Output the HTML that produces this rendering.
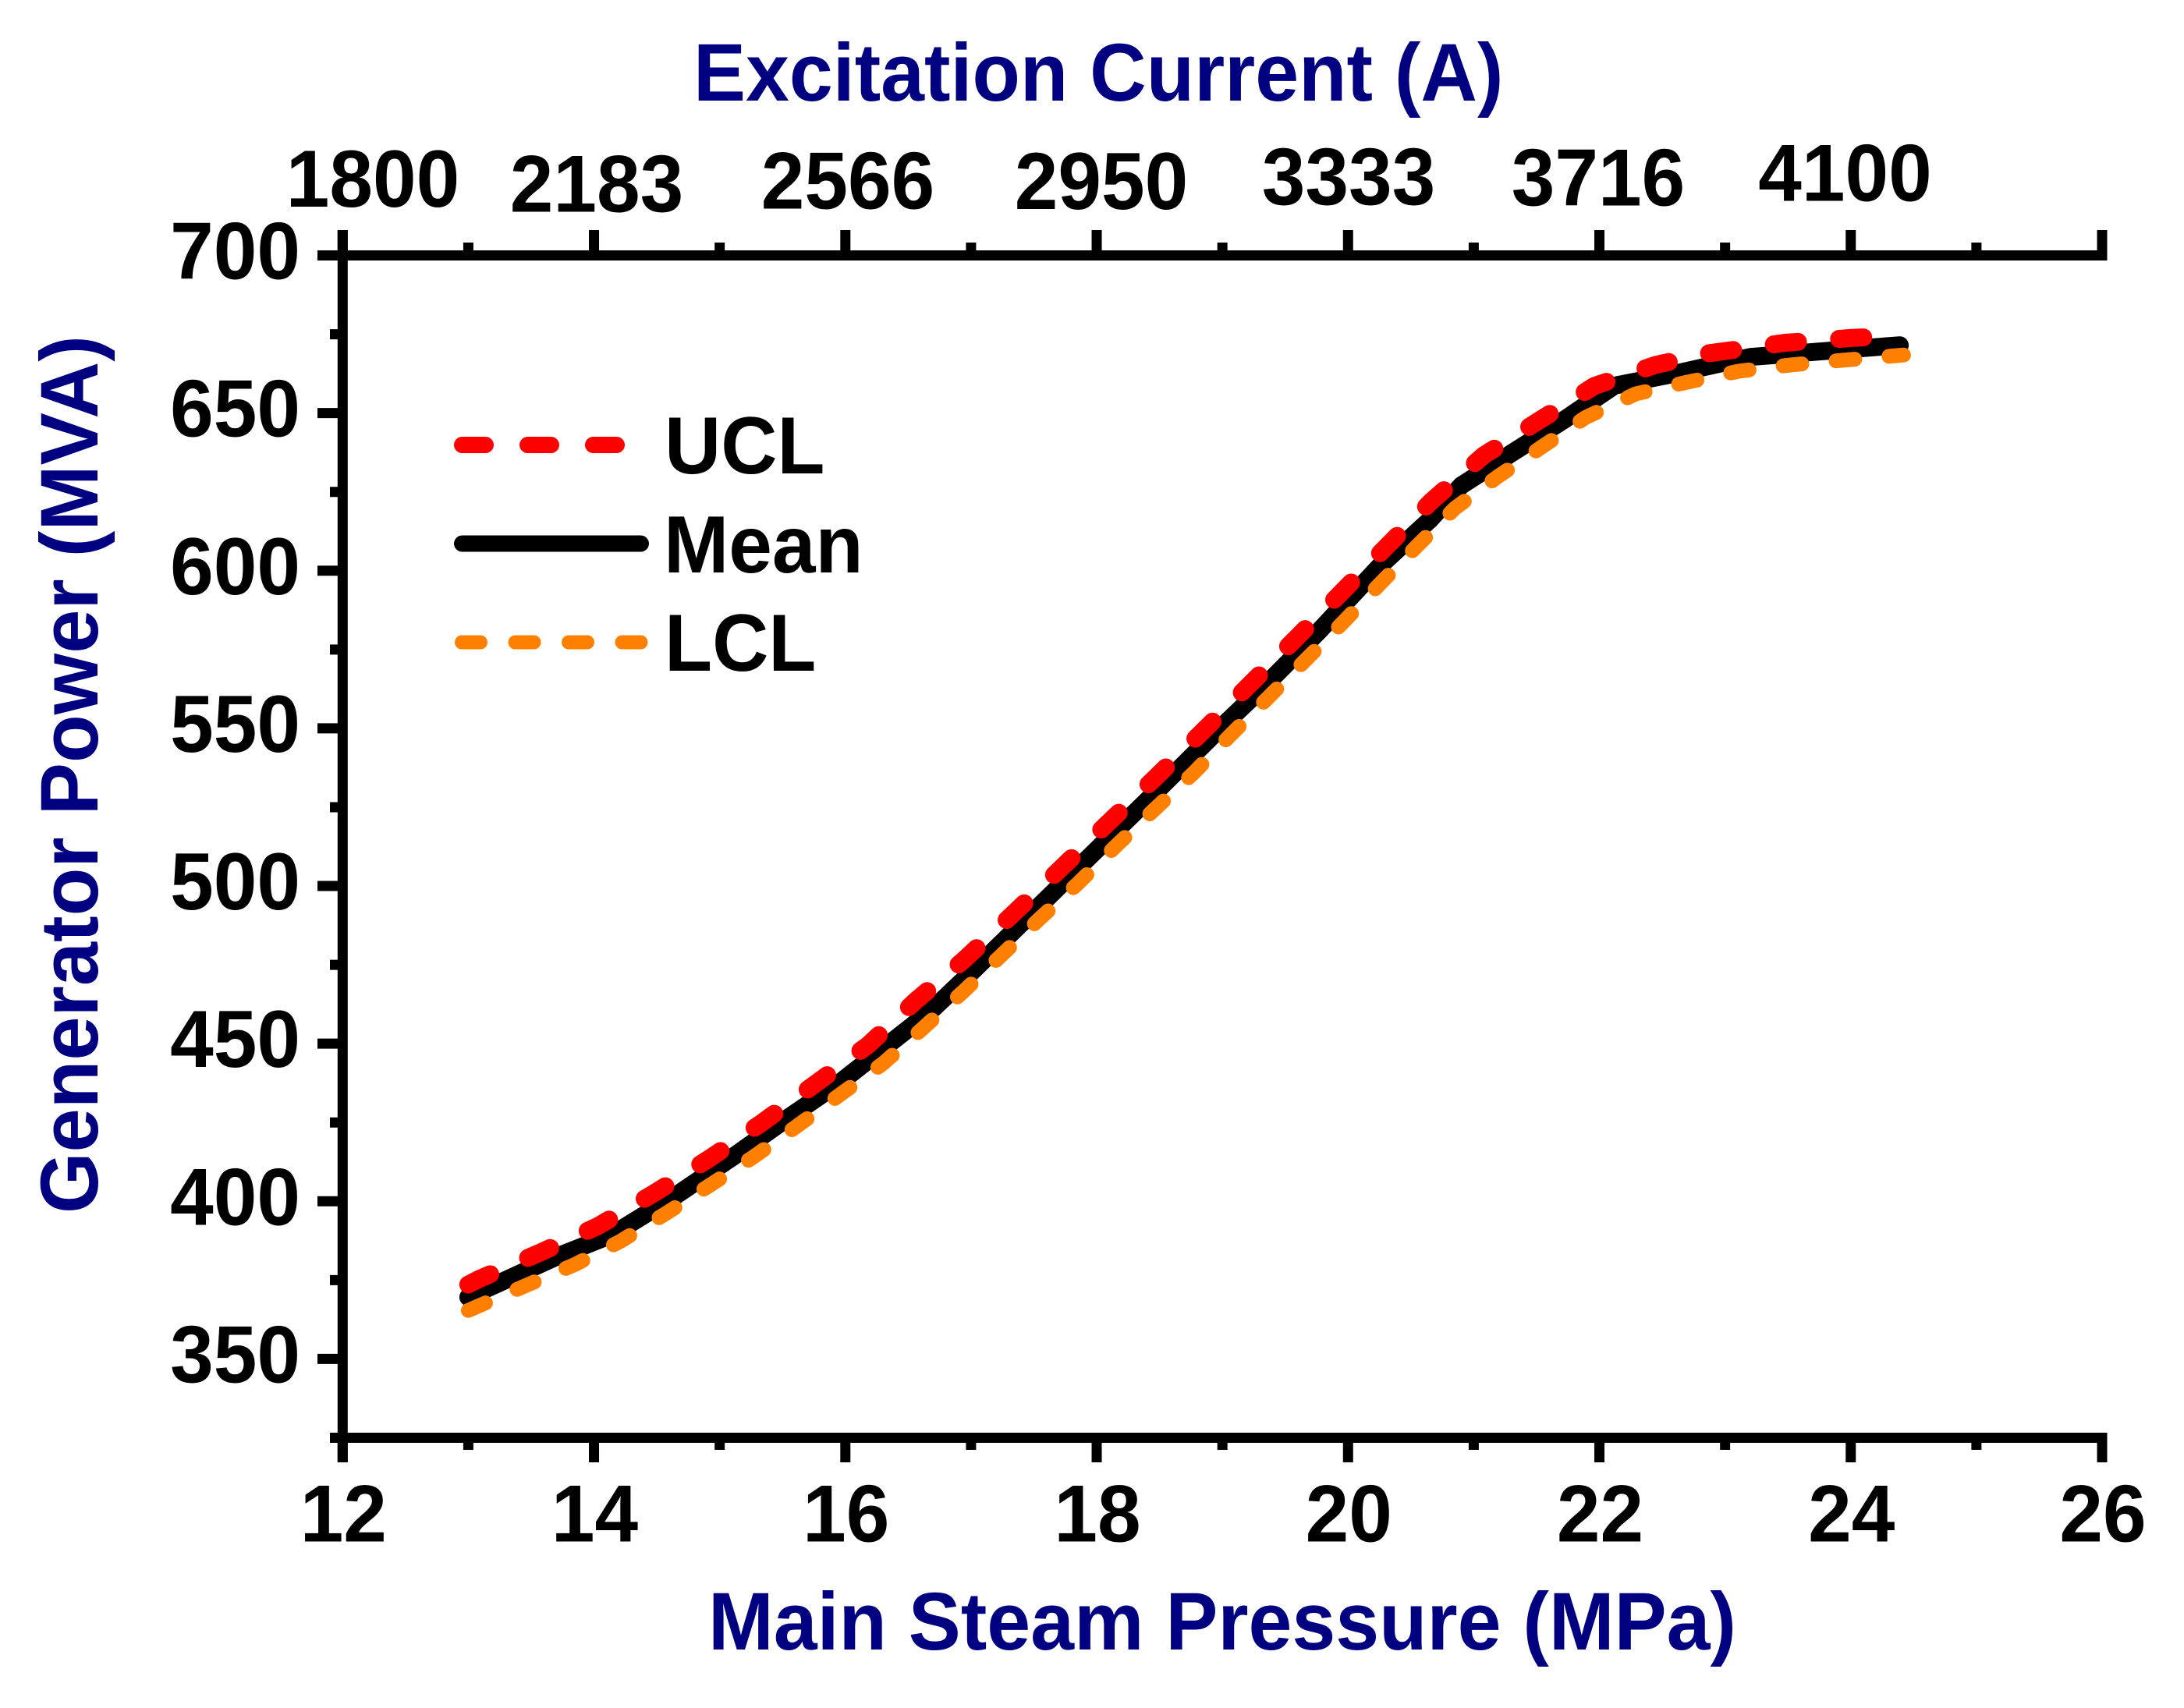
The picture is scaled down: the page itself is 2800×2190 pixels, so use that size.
<!DOCTYPE html>
<html lang="en">
<head>
<meta charset="utf-8">
<title>Generator Power vs Main Steam Pressure</title>
<style>
html,body{margin:0;padding:0;background:#fff;}
svg{display:block;}
text{font-family:"Liberation Sans",Arial,sans-serif;font-weight:bold;}
</style>
</head>
<body>
<svg id="chart" xmlns="http://www.w3.org/2000/svg" width="2800" height="2190" viewBox="0 0 2800 2190">
  <rect x="0" y="0" width="2800" height="2190" fill="#ffffff"/>
  <g id="axes"></g>
  <g id="series"></g>

  <text transform="translate(889,129) scale(1,1.04)" font-size="100.5" fill="#000080">Excitation Current (A)</text>
  <text transform="translate(908,2115) scale(1,1.04)" font-size="100.5" fill="#000080">Main Steam Pressure (MPa)</text>
  <text transform="translate(125,1556) rotate(-90) scale(1,1.04)" font-size="101" fill="#000080">Generator Power (MVA)</text>

  <g font-size="100" fill="#000" text-anchor="middle">
    <text transform="translate(478,265) scale(1,1.04)">1800</text>
    <text transform="translate(765,271.5) scale(1,1.04)">2183</text>
    <text transform="translate(1087,267.5) scale(1,1.04)">2566</text>
    <text transform="translate(1412,268) scale(1,1.04)">2950</text>
    <text transform="translate(1729,262.5) scale(1,1.04)">3333</text>
    <text transform="translate(2049,263.5) scale(1,1.04)">3716</text>
    <text transform="translate(2365.5,257.5) scale(1,1.04)">4100</text>
  </g>

  <g>
    <line x1="592.5" y1="570.5" x2="792" y2="570.5" stroke="#ff0000" stroke-width="21" stroke-linecap="round" stroke-dasharray="30 54"/>
    <text transform="translate(852,607) scale(1,1.04)" font-size="100" fill="#000">UCL</text>
    <line x1="592.5" y1="697" x2="821.5" y2="697" stroke="#000000" stroke-width="21" stroke-linecap="round"/>
    <text transform="translate(851,734) scale(1,1.04)" font-size="100" fill="#000">Mean</text>
    <line x1="592" y1="823.5" x2="822" y2="823.5" stroke="#ff8000" stroke-width="18" stroke-linecap="round" stroke-dasharray="24 44.5"/>
    <text transform="translate(852,860) scale(1,1.04)" font-size="100" fill="#000">LCL</text>
  </g>
</svg>
<script>
const xTickValues = [12, 14, 16, 18, 20, 22, 24, 26];
const xMinorValues = [13, 15, 17, 19, 21, 23, 25];
const yTickValues = [350, 400, 450, 500, 550, 600, 650, 700];
const yMinorValues = [325, 375, 425, 475, 525, 575, 625, 675];

const meanPressure = [13, 13.7, 14.15, 14.65, 15.12, 15.53, 15.98, 16.43, 16.67, 17, 17.5, 18, 18.5, 19, 19.35, 19.77, 20.25, 20.65, 20.9, 21.31, 21.71, 22.12, 22.58, 22.88, 23.2, 23.74, 24.39];
const meanPower = [369.6, 382.4, 389.5, 401.8, 414.5, 426.1, 438.4, 452.5, 460, 472.5, 492, 511.5, 531, 550.7, 564, 580.9, 601.4, 616.1, 627, 637.5, 647.6, 658.7, 662.3, 665, 667.8, 669.5, 671.5];

const uclPressure = [13, 13.09, 13.57, 14.03, 14.48, 14.92, 15.34, 15.76, 16.18, 16.56, 16.94, 17.32, 17.7, 18.07, 18.45, 18.82, 19.19, 19.56, 19.93, 20.29, 20.66, 21.08, 21.52, 21.96, 22.45, 22.86, 23.48, 24, 24.39];
const uclPower = [373.6, 375.4, 383.7, 392.1, 402.6, 413.6, 425, 437.2, 449.5, 463.6, 476.4, 490.6, 505, 519.2, 533.7, 548.1, 562.8, 577.5, 592.4, 607, 621.9, 636.6, 647.6, 658.6, 665.3, 668.9, 672.3, 673.8, 674.6];

const lclPressure = [13, 13.07, 13.46, 13.85, 14.21, 14.57, 14.93, 15.27, 15.62, 15.96, 16.3, 16.62, 16.93, 17.23, 17.54, 17.85, 18.15, 18.46, 18.77, 19.06, 19.36, 19.66, 19.96, 20.25, 20.55, 20.85, 21.19, 21.54, 21.89, 22.29, 22.7, 23.11, 23.53, 23.95, 24.42];
const lclPower = [365.4, 366.6, 373.3, 380, 387.3, 396.1, 405.3, 414.1, 424, 433.9, 443.7, 455, 466.2, 477.6, 489.4, 500.8, 512.6, 524.3, 535.8, 547.7, 559.6, 571.6, 583.6, 595.7, 607.9, 619.8, 629.8, 639.2, 648.6, 656.1, 659.8, 663.3, 665.3, 666.8, 668.4];

const svgNS = 'http://www.w3.org/2000/svg';
const axes = document.getElementById('axes');
const seriesGroup = document.getElementById('series');

function xScale(v) { return 439.3 + (v - 12) * (2695 - 439.3) / 14; }
function yScale(v) { return 1843.5 - (v - 325) * (1843.5 - 327.5) / 375; }

function makeLine(x1, y1, x2, y2) {
  const el = document.createElementNS(svgNS, 'line');
  el.setAttribute('x1', x1);
  el.setAttribute('y1', y1);
  el.setAttribute('x2', x2);
  el.setAttribute('y2', y2);
  el.setAttribute('stroke', '#000');
  el.setAttribute('stroke-width', 13);
  axes.appendChild(el);
  return el;
}
function makeLabel(x, y, anchor, str) {
  const el = document.createElementNS(svgNS, 'text');
  el.setAttribute('transform', 'translate(' + x + ',' + y + ') scale(1,1.04)');
  el.setAttribute('text-anchor', anchor);
  el.setAttribute('font-size', 100);
  el.setAttribute('fill', '#000');
  el.textContent = str;
  axes.appendChild(el);
  return el;
}

const leftAxis = makeLine(439.3, 295, 439.3, 1875);


const topAxis = makeLine(407, 327.5, 2701.5, 327.5);


const bottomAxis = makeLine(423, 1843.5, 2701.5, 1843.5);



xTickValues.forEach(function (v) {
  const bottomTick = makeLine(xScale(v), 1843.5, xScale(v), 1875);
  
  
  const topTick = makeLine(xScale(v), 327.5, xScale(v), 295);
  
  
  const label = makeLabel(xScale(v) + 1, 1976.5, 'middle', String(v));
  
  
});
xMinorValues.forEach(function (v) {
  const bottomTick = makeLine(xScale(v), 1843.5, xScale(v), 1859);
  
  
  const topTick = makeLine(xScale(v), 327.5, xScale(v), 311);
  
  
});
yTickValues.forEach(function (v) {
  const tick = makeLine(407, yScale(v), 439.3, yScale(v));
  
  
  const label = makeLabel(385, yScale(v) + 30, 'end', String(v));
  
  
});
yMinorValues.forEach(function (v) {
  const tick = makeLine(423, yScale(v), 439.3, yScale(v));
  
  
});

function makeSeries(xs, ys, color, width, dash) {
  const el = document.createElementNS(svgNS, 'polyline');
  el.setAttribute('points', xs.map(function (x, i) { return xScale(x).toFixed(1) + ',' + yScale(ys[i]).toFixed(1); }).join(' '));
  el.setAttribute('fill', 'none');
  el.setAttribute('stroke', color);
  el.setAttribute('stroke-width', width);
  el.setAttribute('stroke-linecap', 'round');
  el.setAttribute('stroke-linejoin', 'round');
  if (dash) el.setAttribute('stroke-dasharray', dash);
  seriesGroup.appendChild(el);
  return el;
}

const meanLine = makeSeries(meanPressure, meanPower, '#000000', 23, null);


const uclLine = makeSeries(uclPressure, uclPower, '#ff0000', 23, '31 52.9');


const lclLine = makeSeries(lclPressure, lclPower, '#ff8000', 19, '24 44.1');


</script>
</body>
</html>
